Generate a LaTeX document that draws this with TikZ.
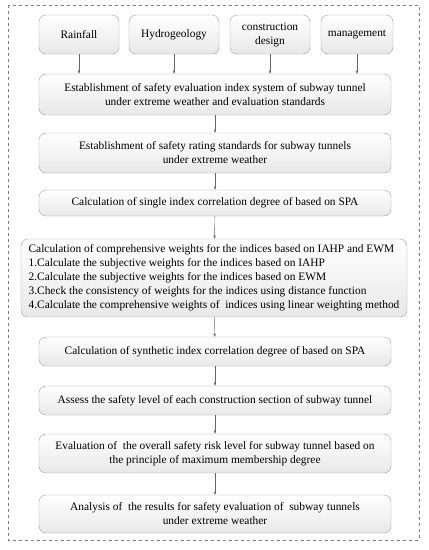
\documentclass[tikz,border=0pt]{standalone}
\usepackage{fontspec}
\setmainfont{Liberation Serif}
\usepackage{tikz}
\usetikzlibrary{positioning}
\usetikzlibrary{arrows.meta}
\usepackage{xcolor}

\begin{document}
\begin{tikzpicture}[x=1pt, y=-1pt,
        stepbox/.style={draw=gray!75, rounded corners=7pt, top color=white, bottom color=gray!18,
            align=center, inner sep=2pt, font=\fontsize{11.4}{14}\selectfont},
        link/.style={draw=gray!80!black, -{Stealth[length=3.5pt, width=2.5pt]}}]
        \useasboundingbox (0,0) rectangle (429,550);
        \draw[gray, dashed] (8,5) rectangle (419,540);
        % factors on top
        \foreach \n/\x/\w/\t in {rain/79/80/Rainfall, hydro/174/90/Hydrogeology,
            design/270/80/{construction\\design}, manage/357/72/management}
        {
            \node[stepbox, minimum width=\w, minimum height=39] (\n) at (\x, 34.5) {\t};
        }
        \node[stepbox, minimum width=352, minimum height=41] (est) at (215, 94.5)
            {Establishment of safety evaluation index system of subway tunnel\\under extreme weather and evaluation standards};
        \node[stepbox, minimum width=352, minimum height=40] (rating) at (215, 153)
            {Establishment of safety rating standards for subway tunnels\\under extreme weather};
        \node[stepbox, minimum width=352, minimum height=26] (single) at (215, 203)
            {Calculation of single index correlation degree of based on SPA};
        \node[stepbox, align=left, minimum width=386, minimum height=78] (weights) at (214, 278)
            {Calculation of comprehensive weights for the indices based on IAHP and EWM\\
             1.Calculate the subjective weights for the indices based on IAHP\\
             2.Calculate the subjective weights for the indices based on EWM\\
             3.Check the consistency of weights for the indices using distance function\\
             4.Calculate the comprehensive weights of~ indices using linear weighting method};
        \node[stepbox, minimum width=352, minimum height=29] (synth) at (215, 351.5)
            {Calculation of synthetic index correlation degree of based on SPA};
        \node[stepbox, minimum width=352, minimum height=29] (assess) at (215, 400.5)
            {Assess the safety level of each construction section of subway tunnel};
        \node[stepbox, minimum width=352, minimum height=39] (overall) at (215, 453.5)
            {Evaluation of~ the overall safety risk level for subway tunnel based on\\the principle of maximum membership degree};
        \node[stepbox, minimum width=352, minimum height=38] (result) at (215, 514)
            {Analysis of~ the results for safety evaluation of~ subway tunnels\\under extreme weather};
        \foreach \n in {rain, hydro, design, manage}
            \draw[link] (\n) -- (\n |- est.north);
        \foreach \a/\b in {est/rating, rating/single, single/weights, weights/synth,
            synth/assess, assess/overall, overall/result}
            \draw[link] (\a) -- (\b);
    \end{tikzpicture}
\end{document}
